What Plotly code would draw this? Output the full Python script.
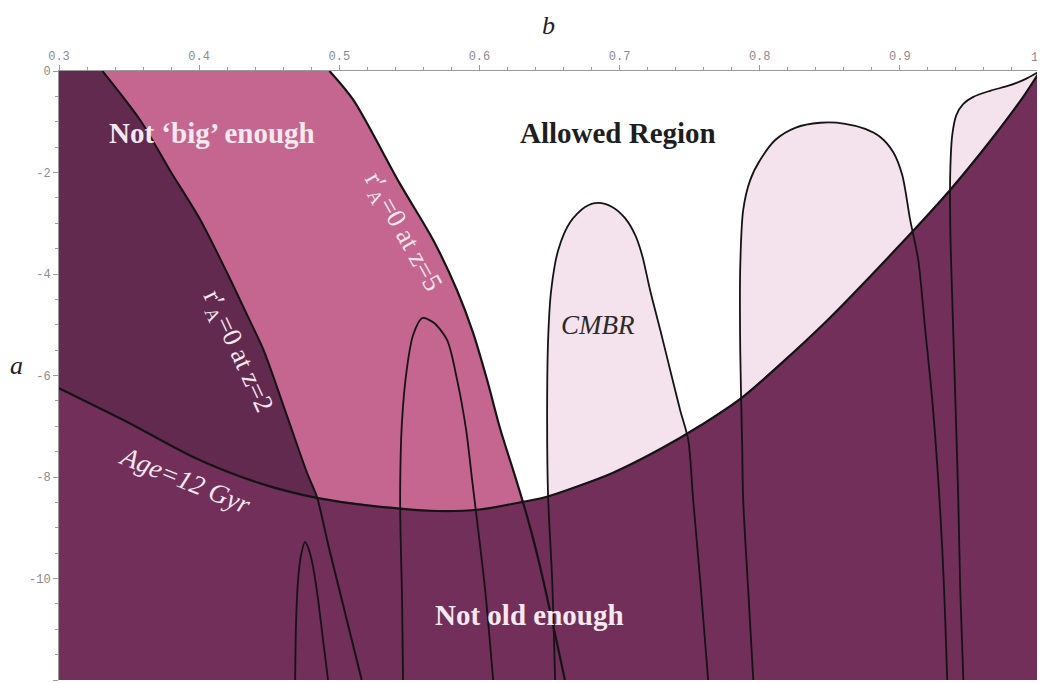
import plotly.graph_objects as go

# Axis ranges
B_MIN, B_MAX = 0.3, 1.0
A_MIN, A_MAX = -12.0, 0.0

X_TICKS = [0.3, 0.4, 0.5, 0.6, 0.7, 0.8, 0.9, 1.0]
X_TICK_TEXT = ["0.3", "0.4", "0.5", "0.6", "0.7", "0.8", "0.9", ""]
X_LAST_LABEL = "1"
Y_TICKS = [0, -2, -4, -6, -8, -10, -12]
Y_TICK_TEXT = ["0", "-2", "-4", "-6", "-8", "-10", "-12"]

# r'_A = 0 at z=5 boundary
Z5_B = [0.493, 0.510, 0.543, 0.567, 0.584, 0.5955, 0.6055, 0.615, 0.624, 0.631, 0.638,
        0.645, 0.661]
Z5_A = [0.0, -0.57, -2.21, -3.33, -4.32, -5.16, -6.09, -7.07, -7.86, -8.49, -9.18,
        -9.97, -12.0]

# r'_A = 0 at z=2 boundary
Z2_B = [0.331, 0.358, 0.379, 0.401, 0.420, 0.436, 0.446, 0.463, 0.477, 0.484, 0.493, 0.516]
Z2_A = [0.0, -0.97, -1.95, -2.94, -3.98, -4.91, -5.50, -6.82, -7.92, -8.39, -9.44, -12.0]

# Age = 12 Gyr curve
AGE_B = [0.300, 0.349, 0.396, 0.443, 0.484, 0.538, 0.570, 0.600, 0.631, 0.648, 0.695,
         0.729, 0.758, 0.788, 0.845, 0.900, 0.936, 0.965, 0.988, 1.000]
AGE_A = [-6.25, -6.92, -7.61, -8.12, -8.41, -8.61, -8.67, -8.64, -8.49, -8.39, -7.92,
         -7.45, -6.98, -6.42, -5.00, -3.43, -2.34, -1.36, -0.51, 0.0]

# CMBR contour arches
ARCH_A_B = [0.4685, 0.4692, 0.4706, 0.4727, 0.4756, 0.4784, 0.4813, 0.4849, 0.4884, 0.4920]
ARCH_A_A = [-12.0, -10.82, -10.03, -9.54, -9.28, -9.44, -9.77, -10.42, -11.21, -12.0]

ARCH_B_B = [0.5455, 0.5448, 0.5434, 0.5448, 0.5484, 0.5527, 0.5591, 0.5670, 0.5769,
            0.5841, 0.5905, 0.5948, 0.5991, 0.6041, 0.6098]
ARCH_B_A = [-12.0, -10.42, -8.45, -6.88, -5.83, -5.20, -4.87, -4.95, -5.30,
            -6.09, -7.07, -8.06, -9.04, -10.23, -12.0]

ARCH_C_B = [0.6540, 0.6519, 0.6490, 0.6483, 0.6490, 0.6512, 0.6562, 0.6647, 0.6754, 0.6847,
            0.6947, 0.7039, 0.7111, 0.7161, 0.7218, 0.7290, 0.7361, 0.7432, 0.7490, 0.7525,
            0.7575, 0.7632]
ARCH_C_A = [-12.0, -10.03, -8.39, -6.88, -5.30, -4.32, -3.53, -2.98, -2.68, -2.60,
            -2.68, -2.90, -3.23, -3.63, -4.32, -5.10, -5.89, -6.68, -7.27, -8.45,
            -10.03, -12.0]

ARCH_D_B = [0.7954, 0.7918, 0.7882, 0.7875, 0.7861, 0.7861, 0.7882, 0.7932, 0.8004, 0.8111,
            0.8253, 0.8432, 0.8610, 0.8753, 0.8860, 0.8953, 0.9017, 0.9074, 0.9131, 0.9181,
            0.9231, 0.9274, 0.9303, 0.9324, 0.9338]
ARCH_D_A = [-12.0, -10.23, -8.45, -7.41, -5.50, -3.86, -2.74, -2.15, -1.75, -1.36,
            -1.12, -1.02, -1.04, -1.14, -1.30, -1.60, -2.05, -2.94, -3.72, -5.10,
            -6.48, -8.06, -9.44, -10.82, -12.0]

ARCH_E_B = [0.9453, 0.9431, 0.9417, 0.9396, 0.9374, 0.9360, 0.9360, 0.9374, 0.9403, 0.9453,
            0.9524, 0.9645, 0.9788, 0.9895, 1.0]
ARCH_E_A = [-12.0, -10.23, -8.45, -6.48, -4.51, -3.13, -1.95, -1.26, -0.87, -0.65,
            -0.51, -0.39, -0.28, -0.16, 0.0]

# Colours
WHITE = "#ffffff"
LIGHT_PINK = "#f4e3ec"
PINK = "#c4668f"
DARK_LEFT = "#622a4f"
BELOW_AGE = "#712f59"
LINE = "#141414"

fig = go.Figure()


def fill(xs, ys, color):
    fig.add_trace(go.Scatter(x=xs, y=ys, mode="lines", fill="toself", fillcolor=color,
                             line=dict(width=0, color=color), hoverinfo="skip",
                             showlegend=False))


def line(xs, ys, width=2.0):
    fig.add_trace(go.Scatter(x=xs, y=ys, mode="lines",
                             line=dict(width=width, color=LINE, shape="spline", smoothing=0.8),
                             hoverinfo="skip", showlegend=False))


# CMBR-allowed interiors (light pink)
fill(ARCH_C_B, ARCH_C_A, LIGHT_PINK)
fill(ARCH_D_B, ARCH_D_A, LIGHT_PINK)
fill(ARCH_E_B + [B_MAX], ARCH_E_A + [A_MIN], LIGHT_PINK)

# Not 'big' enough (left of z=5 curve)
fill([B_MIN] + Z5_B + [B_MIN], [A_MAX] + Z5_A + [A_MIN], PINK)
# Left of z=2 curve
fill([B_MIN] + Z2_B + [B_MIN], [A_MAX] + Z2_A + [A_MIN], DARK_LEFT)
# Not old enough (below Age curve)
fill(AGE_B + [B_MAX, B_MIN], AGE_A + [A_MIN, A_MIN], BELOW_AGE)

# Curves
line(ARCH_A_B, ARCH_A_A, 1.8)
line(ARCH_B_B, ARCH_B_A, 1.8)
line(ARCH_C_B, ARCH_C_A, 1.8)
line(ARCH_D_B, ARCH_D_A, 1.8)
line(ARCH_E_B, ARCH_E_A, 1.8)
line(Z2_B, Z2_A, 2.0)
line(Z5_B, Z5_A, 2.2)
line(AGE_B, AGE_A, 2.2)

serif = "Liberation Serif, Times New Roman, serif"
mono = "Liberation Mono, Courier New, monospace"
LABEL_WHITE = "#f6e8ef"
TICK_FONT = dict(family=mono, size=12, color="#8a8a8a")

annotations = [
    dict(text="<i>b</i>", xref="paper", yref="paper", x=0.4985, y=1.0755,
         font=dict(family=serif, size=26, color="#222222")),
    dict(text="<i>a</i>", xref="paper", yref="paper", x=-0.043, y=0.517,
         font=dict(family=serif, size=26, color="#222222")),
    dict(text=X_LAST_LABEL, xref="paper", yref="paper", x=1.0, y=1.0215,
         xanchor="right", font=TICK_FONT),
    dict(text="<b>Not \u2018big\u2019 enough</b>", x=0.4092, y=-1.22,
         font=dict(family=serif, size=29, color=LABEL_WHITE)),
    dict(text="<b>Allowed Region</b>", x=0.699, y=-1.22,
         font=dict(family=serif, size=29, color="#1e1e1e")),
    dict(text="<b>Not old enough</b>", x=0.636, y=-10.72,
         font=dict(family=serif, size=29, color=LABEL_WHITE)),
    dict(text="<i>CMBR</i>", x=0.6847, y=-5.0,
         font=dict(family=serif, size=27, color="#2a2a2a")),
    dict(text="<i>Age=12 Gyr</i>", x=0.390, y=-8.05, textangle=22,
         font=dict(family=serif, size=27, color=LABEL_WHITE)),
    dict(text="r\u2032<sub>A</sub>=0 at z=5", x=0.5448, y=-3.17, textangle=61,
         font=dict(family=serif, size=27, color=LABEL_WHITE)),
    dict(text="r\u2032<sub>A</sub>=0 at z=2", x=0.427, y=-5.54, textangle=65,
         font=dict(family=serif, size=27, color=LABEL_WHITE)),
]
for ann in annotations:
    ann["showarrow"] = False
    ann.setdefault("xanchor", "center")
    ann["yanchor"] = "middle"
fig.update_layout(annotations=annotations)

fig.update_layout(
    width=1037, height=675,
    margin=dict(l=51, r=5, t=63, b=3, autoexpand=False),
    paper_bgcolor=WHITE, plot_bgcolor=WHITE,
    showlegend=False,
    xaxis=dict(range=[B_MIN, B_MAX], side="top", tickmode="array", tickvals=X_TICKS,
               ticktext=X_TICK_TEXT, showgrid=False, zeroline=False, showline=True,
               linecolor="#9a9a9a", linewidth=1, ticks="outside", ticklen=5,
               tickcolor="#9a9a9a", tickfont=TICK_FONT,
               minor=dict(tickmode="linear", tick0=0.3, dtick=0.02, ticklen=3,
                          tickcolor="#9a9a9a", showgrid=False)),
    yaxis=dict(range=[A_MIN, A_MAX], tickmode="array", tickvals=Y_TICKS,
               ticktext=Y_TICK_TEXT, showgrid=False, zeroline=False, showline=True,
               linecolor="#9a9a9a", linewidth=1, ticks="outside", ticklen=5,
               tickcolor="#9a9a9a", tickfont=TICK_FONT,
               minor=dict(tickmode="linear", tick0=0, dtick=0.5, ticklen=3,
                          tickcolor="#9a9a9a", showgrid=False)),
)

fig.write_html("out.html")
